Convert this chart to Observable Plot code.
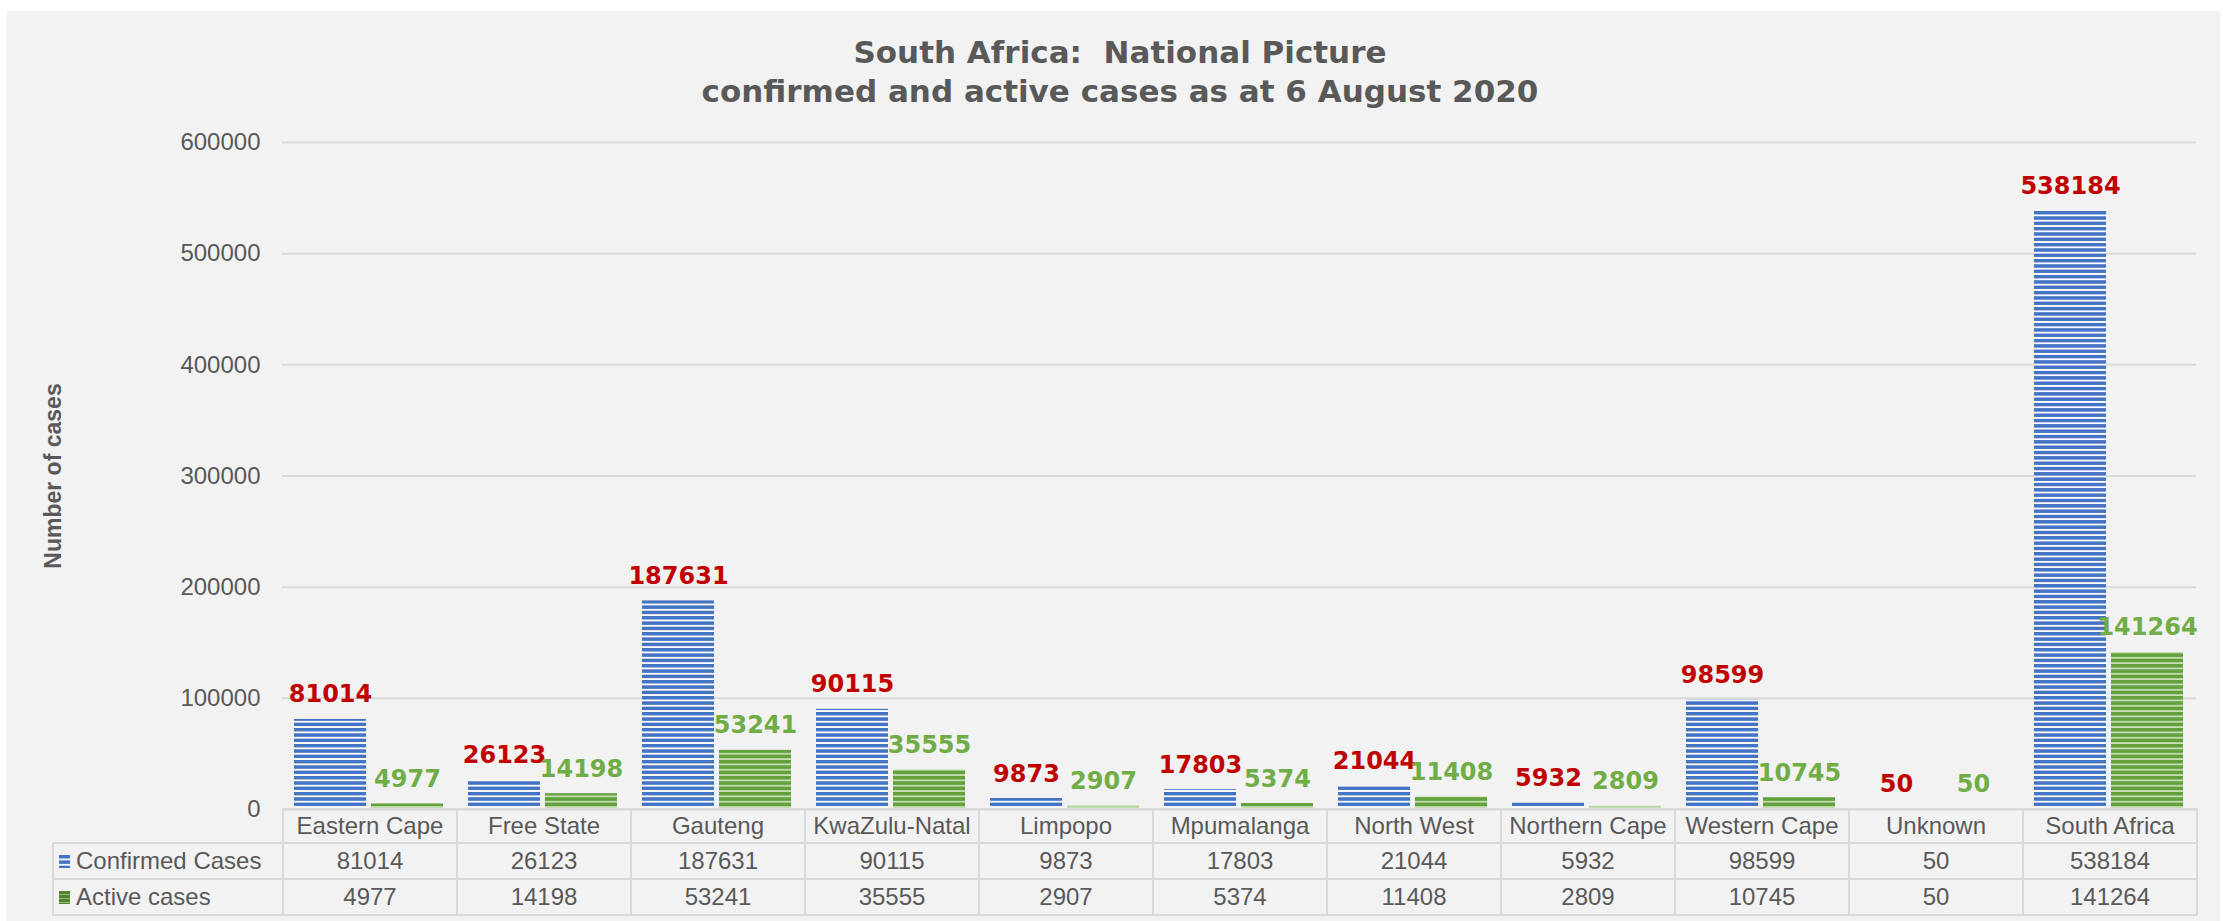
<!DOCTYPE html>
<html><head><meta charset="utf-8">
<script src="https://cdn.jsdelivr.net/npm/d3@7"></script>
<script src="https://cdn.jsdelivr.net/npm/@observablehq/plot@0.6"></script>
<style>
html,body{margin:0;padding:0;background:#fff;}
#page{position:relative;width:2223px;height:921px;overflow:hidden;}
#bg{position:absolute;left:7px;top:11px;width:2213px;height:910px;background:#f2f2f2;}
#title{position:absolute;left:0;top:33px;width:2240px;text-align:center;font-family:"DejaVu Sans",Verdana,sans-serif;font-weight:bold;font-size:31px;line-height:39px;color:#595959;white-space:pre;}
#ytitle{position:absolute;left:53px;top:476px;transform:translate(-50%,-50%) rotate(-90deg);font-family:"Liberation Sans",Arial,sans-serif;font-weight:bold;font-size:23px;color:#595959;white-space:nowrap;}
#chart{position:absolute;left:0;top:115px;}
.cell{position:absolute;box-sizing:border-box;border:2px solid #d9d9d9;font-family:"Liberation Sans",Arial,sans-serif;font-size:24px;color:#595959;display:flex;align-items:center;justify-content:center;white-space:nowrap;}
.cell.lab{justify-content:flex-start;padding-left:5px;}
.sw{display:inline-block;width:11px;height:13px;margin-right:6px;}
</style></head>
<body>
<svg width="0" height="0" style="position:absolute"><defs>
<pattern id="blueStripes" patternUnits="userSpaceOnUse" width="10" height="5.33"><rect width="10" height="5.33" fill="#ffffff"/><rect width="10" height="3.5" fill="#4472c4"/></pattern>
<pattern id="greenStripes" patternUnits="userSpaceOnUse" width="10" height="5.33"><rect width="10" height="5.33" fill="#c6dfb4"/><rect width="10" height="3.6" fill="#63a03e"/></pattern>
<pattern id="greenSwatch" patternUnits="userSpaceOnUse" width="10" height="4"><rect width="10" height="4" fill="#8fbf6f"/><rect width="10" height="3" fill="#548235"/></pattern>
</defs></svg>
<div id="page"><div id="bg"></div><div id="title"></div><div id="ytitle"></div><div id="chart"></div><div id="table"></div></div>
<script>
const categories = ["Eastern Cape","Free State","Gauteng","KwaZulu-Natal","Limpopo","Mpumalanga","North West","Northern Cape","Western Cape","Unknown","South Africa"];
const confirmed = [81014,26123,187631,90115,9873,17803,21044,5932,98599,50,538184];
const active = [4977,14198,53241,35555,2907,5374,11408,2809,10745,50,141264];
const seriesNames = ["Confirmed Cases","Active cases"];
const seriesFill = ["url(#blueStripes)","url(#greenStripes)"];
const swatchFill = ["url(#blueStripes)","url(#greenSwatch)"];
const labelColors = ["#c00000","#70ad47"];
const yTicks = [0,100000,200000,300000,400000,500000,600000];
const titleLines = ["South Africa:  National Picture","confirmed and active cases as at 6 August 2020"];
const yTitle = "Number of cases";

document.getElementById("title").textContent = titleLines.join("\n");
document.getElementById("ytitle").textContent = yTitle;

const values = [confirmed, active];
const rows = categories.flatMap((c,i)=>seriesNames.map((s,j)=>({cat:c, series:s, si:j, value:values[j][i]})));

const plot = Plot.plot({
  width: 2223, height: 806,
  marginLeft: 277, marginRight: 23, marginTop: 27, marginBottom: 112,
  style: {background:"transparent", fontFamily:"'Liberation Sans', Arial, sans-serif", fontSize:"24px", color:"#595959", overflow:"visible"},
  fx: {domain: categories, paddingInner: 0, paddingOuter: 0, axis: null, label: null},
  x: {domain: seriesNames, paddingInner: 5/77.5, paddingOuter: 12.5/77.5, axis: null},
  y: {domain:[0,600000], axis: null},
  color: {type: "identity"},
  marks: [
    Plot.gridY(yTicks, {stroke:"#d9d9d9", strokeWidth:2, strokeOpacity:1}),
    Plot.axisY(yTicks, {tickSize:0, tickPadding:22, tickFormat:d=>String(d), label:null, fill:"#595959", fontSize:24}),
    Plot.barY(rows, {fx:"cat", x:"series", y:"value", fill: d=>seriesFill[d.si]}),
    Plot.text(rows, {fx:"cat", x:"series", y:"value", text: d=>String(d.value), lineAnchor:"bottom", dy:-17,
      fill: d=>labelColors[d.si], fontWeight:"bold", fontFamily:"'DejaVu Sans', Verdana, sans-serif", fontSize:24})
  ]
});
document.getElementById("chart").appendChild(plot);

// data table below the plot, aligned to the fx scale
const fx = plot.scale("fx");
const bw = fx.bandwidth;
const tbl = d3.select("#table");
const rowTops = [808, 842, 878];
const rowH = [36, 38, 38];
categories.forEach((c,i)=>{
  const left = fx.apply(c);
  tbl.append("div").attr("class","cell")
    .style("left", left+"px").style("top", rowTops[0]+"px")
    .style("width", (bw+2)+"px").style("height", rowH[0]+"px").text(c);
  values.forEach((arr,j)=>{
    tbl.append("div").attr("class","cell")
      .style("left", left+"px").style("top", rowTops[j+1]+"px")
      .style("width", (bw+2)+"px").style("height", rowH[j+1]+"px").text(String(arr[i]));
  });
});
const firstLeft = fx.apply(categories[0]);
seriesNames.forEach((s,j)=>{
  const cell = tbl.append("div").attr("class","cell lab")
    .style("left", "52px").style("top", rowTops[j+1]+"px")
    .style("width", (firstLeft-52+2)+"px").style("height", rowH[j+1]+"px");
  cell.append("svg").attr("class","sw").attr("width",11).attr("height",13)
    .append("rect").attr("width",11).attr("height",13).attr("fill", swatchFill[j]);
  cell.append("span").text(s);
});
</script>
</body></html>
